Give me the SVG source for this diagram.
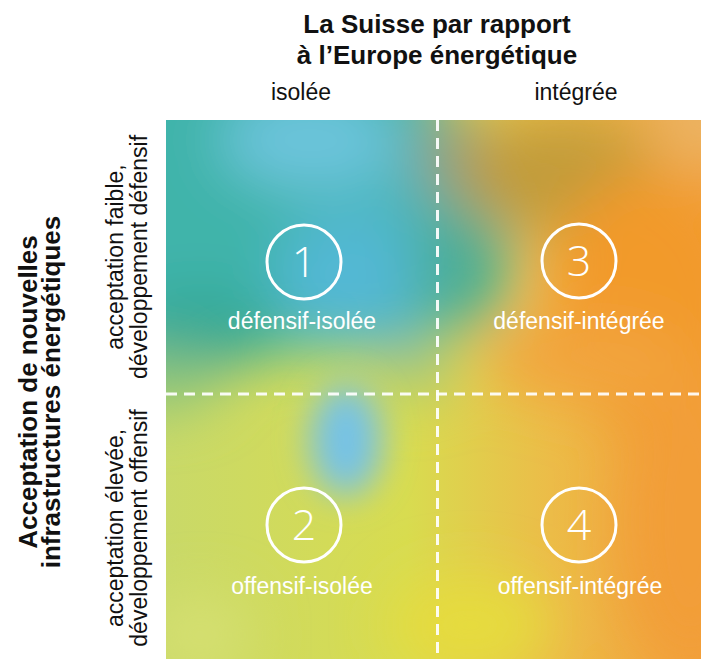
<svg xmlns="http://www.w3.org/2000/svg" width="701" height="659" viewBox="0 0 701 659">
  <defs>
    <style>
      .title { font-family: "Liberation Sans", Arial, sans-serif; font-size: 26px; font-weight: bold; fill: #111; text-anchor: middle; }
      .axis { font-family: "Liberation Sans", Arial, sans-serif; font-size: 23px; fill: #111; text-anchor: middle; }
      .qlabel { font-family: "Liberation Sans", Arial, sans-serif; font-size: 23px; fill: #fff; text-anchor: middle; }
      .num { font-family: "Open Sans", "Liberation Sans", sans-serif; font-size: 43px; font-weight: 300; fill: #fff; text-anchor: middle; }
      .ring { fill: none; stroke: #fff; stroke-width: 3; }
      .divider { stroke: #fff; stroke-width: 3; stroke-dasharray: 11 7; fill: none; opacity: 0.92; }
    </style>
    <clipPath id="field">
      <rect x="166" y="120" width="535" height="539"/>
    </clipPath>
    <linearGradient id="baseGrad" x1="166" y1="0" x2="701" y2="0" gradientUnits="userSpaceOnUse">
      <stop offset="0" stop-color="#c9d968"/>
      <stop offset="0.45" stop-color="#d8dc50"/>
      <stop offset="0.72" stop-color="#ecbc48"/>
      <stop offset="1" stop-color="#f2a03c"/>
    </linearGradient>
    <filter id="soft" x="-50%" y="-50%" width="200%" height="200%">
      <feGaussianBlur stdDeviation="28"/>
    </filter>
    <filter id="softer" x="-80%" y="-80%" width="260%" height="260%">
      <feGaussianBlur stdDeviation="17"/>
    </filter>
  </defs>

  <!-- colour field -->
  <g id="background" clip-path="url(#field)">
    <rect x="166" y="120" width="535" height="539" fill="url(#baseGrad)"/>
    <g filter="url(#soft)">
      <!-- teal/blue upper left -->
      <rect x="90" y="50" width="345" height="300" fill="#3fb4aa"/>
      <ellipse cx="400" cy="240" rx="45" ry="110" fill="#4ab6bc"/>
      <ellipse cx="310" cy="140" rx="90" ry="50" fill="#6cc4dc"/>
      <ellipse cx="345" cy="275" rx="70" ry="65" fill="#52b8d4"/>
      <ellipse cx="200" cy="330" rx="80" ry="40" fill="#35a896"/>
      <ellipse cx="160" cy="380" rx="60" ry="30" fill="#8cc47c"/>
      <!-- upper right: olive to orange -->
      <ellipse cx="450" cy="155" rx="35" ry="50" fill="#8ca282"/>
      <ellipse cx="462" cy="265" rx="48" ry="65" fill="#4cad96"/>
      <ellipse cx="560" cy="175" rx="100" ry="60" fill="#c29c3a"/>
      <ellipse cx="650" cy="300" rx="100" ry="130" fill="#f29a2c"/>
      <circle cx="705" cy="115" r="55" fill="#ecb464"/>
      <ellipse cx="590" cy="360" rx="100" ry="40" fill="#f2a43e"/>
      <ellipse cx="415" cy="370" rx="40" ry="28" fill="#aac878"/>
      <!-- lower half -->
      <ellipse cx="690" cy="520" rx="70" ry="150" fill="#f29e38"/>
      <ellipse cx="470" cy="625" rx="80" ry="50" fill="#e6dc3c"/>
      <ellipse cx="200" cy="635" rx="50" ry="40" fill="#d6e072"/>
    </g>
    <ellipse cx="346" cy="440" rx="36" ry="56" fill="#76c2e6" filter="url(#softer)"/>
  </g>

  <!-- quadrant dividers -->
  <g id="connectors">
    <line class="divider" x1="437.5" y1="120" x2="437.5" y2="659"/>
    <line class="divider" x1="166" y1="394" x2="701" y2="394"/>
  </g>

  <!-- axis titles -->
  <g id="axis-top">
    <text class="title" x="437" y="33">La Suisse par rapport</text>
    <text class="title" x="437" y="64">à l’Europe énergétique</text>
    <text class="axis" x="301" y="100">isolée</text>
    <text class="axis" x="576" y="100">intégrée</text>
  </g>
  <g id="axis-left">
    <g transform="translate(37,392) rotate(-90)">
      <text class="title" x="0" y="0">Acceptation de nouvelles</text>
      <text class="title" x="0" y="23">infrastructures énergétiques</text>
    </g>
    <g transform="translate(123,257) rotate(-90)">
      <text class="axis" x="0" y="0">acceptation faible,</text>
      <text class="axis" x="0" y="24">développement défensif</text>
    </g>
    <g transform="translate(123,528) rotate(-90)">
      <text class="axis" x="0" y="0">acceptation élevée,</text>
      <text class="axis" x="0" y="24">développement offensif</text>
    </g>
  </g>

  <!-- scenarios -->
  <g id="q1">
    <circle class="ring" cx="304" cy="262" r="37"/>
    <text class="num" x="304" y="277">1</text>
    <text class="qlabel" x="302" y="329">défensif-isolée</text>
  </g>
  <g id="q3">
    <circle class="ring" cx="579" cy="261" r="37"/>
    <text class="num" x="579" y="276">3</text>
    <text class="qlabel" x="579" y="329">défensif-intégrée</text>
  </g>
  <g id="q2">
    <circle class="ring" cx="304" cy="525" r="37"/>
    <text class="num" x="304" y="540">2</text>
    <text class="qlabel" x="302" y="594">offensif-isolée</text>
  </g>
  <g id="q4">
    <circle class="ring" cx="579" cy="525" r="37"/>
    <text class="num" x="579" y="540">4</text>
    <text class="qlabel" x="580" y="594">offensif-intégrée</text>
  </g>
</svg>
